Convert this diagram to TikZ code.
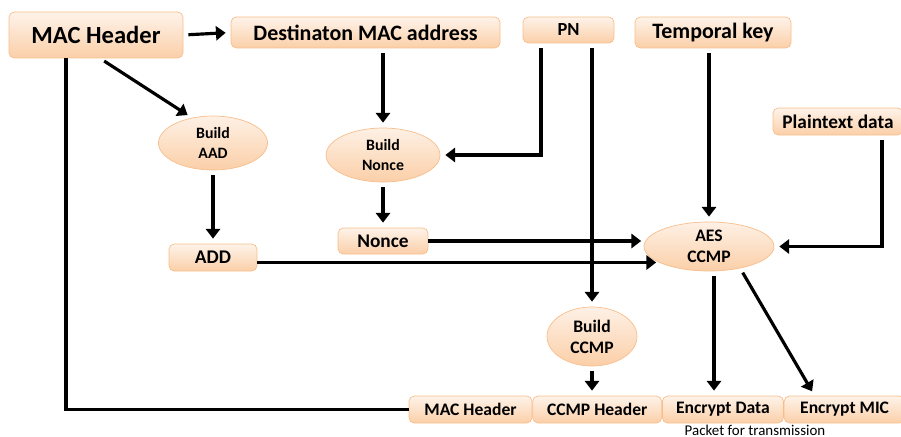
\documentclass[tikz,border=0pt]{standalone}
\usepackage{fontspec}
\setmainfont{Carlito}
\usetikzlibrary{positioning, arrows.meta, shapes.geometric}
\definecolor{peach}{HTML}{FBCFA8}
\definecolor{peachline}{HTML}{F7BE8C}

\begin{document}
\begin{tikzpicture}[
        every node/.style={font=\bfseries\fontsize{10}{12}\selectfont},
        box/.style={draw=peachline, rectangle, rounded corners=3pt, top color=peach!25, bottom color=peach, inner sep=0pt, align=center},
        oval/.style={draw=peachline, ellipse, top color=peach!30, bottom color=peach, inner sep=0pt, align=center, font=\bfseries\fontsize{9}{11}\selectfont},
        arr/.style={-{Triangle[length=5.5pt,width=8pt]}, line width=1.8pt, shorten <=0.1cm, shorten >=0.1cm},
        wire/.style={line width=1.8pt}
    ]
    \useasboundingbox (0,0) rectangle (18.02,-8.72);

    % inputs
    \node[box, minimum width=3.48cm, minimum height=0.92cm, font=\bfseries\fontsize{14}{16}\selectfont] (machdr) at (1.92,-0.70) {MAC Header};
    \node[box, minimum width=5.38cm, minimum height=0.62cm, font=\bfseries\fontsize{12.5}{14}\selectfont] (destmac) at (7.31,-0.65) {Destinaton MAC address};
    \node[box, minimum width=1.82cm, minimum height=0.52cm, font=\bfseries\fontsize{10.5}{12}\selectfont] (pn) at (11.37,-0.60) {PN};
    \node[box, minimum width=3.12cm, minimum height=0.62cm, font=\bfseries\fontsize{12.5}{14}\selectfont] (tkey) at (14.26,-0.65) {Temporal key};
    \node[box, minimum width=2.6cm, minimum height=0.54cm, font=\bfseries\fontsize{11}{13}\selectfont] (plain) at (16.76,-2.43) {Plaintext data};

    % processing
    \node[oval, minimum width=2.18cm, minimum height=1.08cm] (buildaad) at (4.26,-2.86) {Build\\AAD};
    \node[oval, minimum width=2.28cm, minimum height=1.08cm] (buildnonce) at (7.66,-3.10) {Build\\Nonce};
    \node[box, minimum width=1.76cm, minimum height=0.54cm, font=\bfseries\fontsize{11}{13}\selectfont] (add) at (4.26,-5.15) {ADD};
    \node[box, minimum width=1.80cm, minimum height=0.52cm, font=\bfseries\fontsize{11}{13}\selectfont] (nonce) at (7.66,-4.82) {Nonce};
    \node[oval, minimum width=2.60cm, minimum height=0.98cm, font=\bfseries\fontsize{10}{12}\selectfont] (aes) at (14.18,-4.93) {AES\\CCMP};
    \node[oval, minimum width=1.80cm, minimum height=1.18cm, font=\bfseries\fontsize{10}{12}\selectfont] (buildccmp) at (11.84,-6.73) {Build\\CCMP};

    % packet
    \node[box, minimum width=2.46cm, minimum height=0.54cm] (pktmac) at (9.41,-8.19) {MAC Header};
    \node[box, minimum width=2.58cm, minimum height=0.54cm, right=0cm of pktmac] (pktccmp) {CCMP Header};
    \node[box, minimum width=2.42cm, minimum height=0.54cm, right=0cm of pktccmp] (pktdata) {Encrypt Data};
    \node[box, minimum width=2.42cm, minimum height=0.54cm, right=0cm of pktdata] (pktmic) {Encrypt MIC};
    \node[font=\fontsize{8.5}{10}\selectfont, inner sep=0pt, anchor=north] (pktlabel) at (15.1,-8.49) {Packet for transmission};

    \draw[arr] (machdr.east) -- (destmac.west);
    \draw[arr] ([xshift=0.08cm]machdr.south) -- (buildaad.130);
    \draw[wire] ([xshift=-0.6cm]machdr.south) |- (pktmac.west);

    \draw[arr] (buildnonce.north |- destmac.south) -- (buildnonce.north);
    \draw[arr] ([xshift=-0.55cm]pn.south) |- (buildnonce.east);
    \draw[arr] (buildccmp.north |- pn.south) -- (buildccmp.north);
    \draw[arr] (aes.north |- tkey.south) -- (aes.north);
    \draw[arr] ([xshift=0.88cm]plain.south) |- (aes.east);

    \draw[arr] (buildaad.south) -- (add.north);
    \draw[arr] (buildnonce.south) -- (nonce.north);
    \draw[arr, shorten <=0pt, shorten >=0.05cm] (nonce.east) -- (aes.west |- nonce.east);
    \coordinate (addout) at ([yshift=-0.1cm]add.east);
    \draw[arr, shorten <=0pt, shorten >=0.05cm] (addout) -- ([xshift=0.3cm]aes.west |- addout);

    \draw[arr] ([xshift=0.1cm]aes.south) -- ([xshift=0.1cm]aes.south |- pktdata.north);
    \draw[arr] (aes.-35) -- ([xshift=-0.6cm]pktmic.north);
    \draw[arr] (buildccmp.south) -- (buildccmp.south |- pktccmp.north);

\end{tikzpicture}
\end{document}
